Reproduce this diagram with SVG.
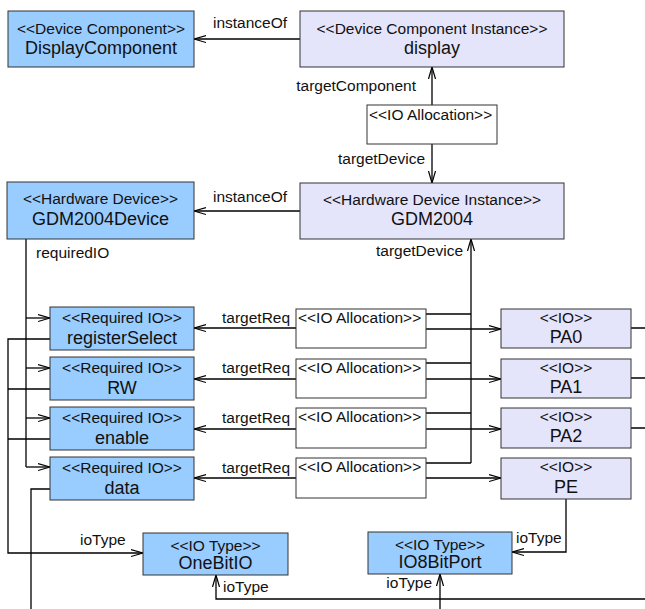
<svg xmlns="http://www.w3.org/2000/svg" width="645" height="609" viewBox="0 0 645 609">
<defs>
<style>
.cls{fill:#99ccff;stroke:#333;stroke-width:1}
.ins{fill:#e4e4fa;stroke:#333;stroke-width:1}
.alc{fill:#ffffff;stroke:#333;stroke-width:1}
text{font-family:"Liberation Sans",Arial,sans-serif;fill:#111}
.st{font-size:15.5px;text-anchor:middle}
.nm{font-size:18px;text-anchor:middle}
.al{font-size:15.5px}
.lb{font-size:15.5px}
.lbe{font-size:15.5px;text-anchor:end}
.cn{fill:none;stroke:#000;stroke-width:1.3}
</style>
<marker id="arr" markerWidth="14" markerHeight="10" refX="12" refY="5" orient="auto" markerUnits="userSpaceOnUse">
<path d="M0,1.5 L12,5 L0,8.5" fill="none" stroke="#000" stroke-width="1.2"/>
</marker>
</defs>
<rect width="645" height="609" fill="#ffffff"/>

<g id="connectors">
<path class="cn" d="M300,39 H194" marker-end="url(#arr)"/>
<path class="cn" d="M432,105 V67" marker-end="url(#arr)"/>
<path class="cn" d="M432,144 V183" marker-end="url(#arr)"/>
<path class="cn" d="M300,211 H194" marker-end="url(#arr)"/>
<path class="cn" d="M471,463 V239" marker-end="url(#arr)"/>
<path class="cn" d="M426,314 H471 M426,363 H471 M426,413 H471 M426,463 H471"/>
<path class="cn" d="M26,239 V467"/>
<path class="cn" d="M26,318 H50" marker-end="url(#arr)"/>
<path class="cn" d="M26,368 H50" marker-end="url(#arr)"/>
<path class="cn" d="M26,418 H50" marker-end="url(#arr)"/>
<path class="cn" d="M26,467 H50" marker-end="url(#arr)"/>
<path class="cn" d="M296,328 H194" marker-end="url(#arr)"/>
<path class="cn" d="M296,379 H194" marker-end="url(#arr)"/>
<path class="cn" d="M296,429 H194" marker-end="url(#arr)"/>
<path class="cn" d="M296,478 H194" marker-end="url(#arr)"/>
<path class="cn" d="M426,329 H501" marker-end="url(#arr)"/>
<path class="cn" d="M426,379 H501" marker-end="url(#arr)"/>
<path class="cn" d="M426,429 H501" marker-end="url(#arr)"/>
<path class="cn" d="M426,478 H501" marker-end="url(#arr)"/>
<path class="cn" d="M631,328 H645 M631,378 H645 M631,428 H645"/>
<path class="cn" d="M50,339 H8 V553 H143" marker-end="url(#arr)"/>
<path class="cn" d="M50,389 H8 M50,439 H8"/>
<path class="cn" d="M50,489 H31 V609"/>
<path class="cn" d="M566,499 V552 H512" marker-end="url(#arr)"/>
<path class="cn" d="M645,599 H216 V575" marker-end="url(#arr)"/>
<path class="cn" d="M440,609 V574" marker-end="url(#arr)"/>
<text class="lb" x="213" y="28">instanceOf</text>
<text class="lbe" x="416" y="91">targetComponent</text>
<text class="lbe" x="425" y="164">targetDevice</text>
<text class="lb" x="213" y="202">instanceOf</text>
<text class="lbe" x="463" y="256">targetDevice</text>
<text class="lb" x="36" y="258">requiredIO</text>
<text class="lb" x="222" y="323">targetReq</text>
<text class="lb" x="222" y="373">targetReq</text>
<text class="lb" x="222" y="423">targetReq</text>
<text class="lb" x="222" y="473">targetReq</text>
<text class="lb" x="80" y="545">ioType</text>
<text class="lb" x="516" y="543">ioType</text>
<text class="lb" x="223" y="592">ioType</text>
<text class="lbe" x="432" y="588">ioType</text>
</g>

<g id="DisplayComponent">
<rect class="cls" x="8" y="11" width="186" height="56"/>
<text class="st" x="101" y="34">&lt;&lt;Device Component&gt;&gt;</text>
<text class="nm" x="101" y="54">DisplayComponent</text>
</g>
<g id="display">
<rect class="ins" x="300" y="11" width="264" height="56"/>
<text class="st" x="432" y="34">&lt;&lt;Device Component Instance&gt;&gt;</text>
<text class="nm" x="432" y="54">display</text>
</g>
<g id="alloc0">
<rect class="alc" x="367" y="105" width="130" height="39"/>
<text class="al" x="369" y="120">&lt;&lt;IO Allocation&gt;&gt;</text>
</g>
<g id="GDM2004Device">
<rect class="cls" x="7" y="182" width="187" height="57"/>
<text class="st" x="100.5" y="204">&lt;&lt;Hardware Device&gt;&gt;</text>
<text class="nm" x="100.5" y="225">GDM2004Device</text>
</g>
<g id="GDM2004">
<rect class="ins" x="300" y="183" width="264" height="56"/>
<text class="st" x="432" y="205">&lt;&lt;Hardware Device Instance&gt;&gt;</text>
<text class="nm" x="432" y="225">GDM2004</text>
</g>

<g id="registerSelect">
<rect class="cls" x="50" y="307" width="144" height="43"/>
<text class="st" x="122" y="323">&lt;&lt;Required IO&gt;&gt;</text>
<text class="nm" x="122" y="344">registerSelect</text>
</g>
<g id="RW">
<rect class="cls" x="50" y="357" width="144" height="43"/>
<text class="st" x="122" y="373">&lt;&lt;Required IO&gt;&gt;</text>
<text class="nm" x="122" y="394">RW</text>
</g>
<g id="enable">
<rect class="cls" x="50" y="407" width="144" height="43"/>
<text class="st" x="122" y="423">&lt;&lt;Required IO&gt;&gt;</text>
<text class="nm" x="122" y="444">enable</text>
</g>
<g id="data">
<rect class="cls" x="50" y="457" width="144" height="43"/>
<text class="st" x="122" y="473">&lt;&lt;Required IO&gt;&gt;</text>
<text class="nm" x="122" y="494">data</text>
</g>

<g id="alloc1">
<rect class="alc" x="296" y="309" width="130" height="39"/>
<text class="al" x="298" y="323">&lt;&lt;IO Allocation&gt;&gt;</text>
</g>
<g id="alloc2">
<rect class="alc" x="296" y="359" width="130" height="39"/>
<text class="al" x="298" y="373">&lt;&lt;IO Allocation&gt;&gt;</text>
</g>
<g id="alloc3">
<rect class="alc" x="296" y="408" width="130" height="40"/>
<text class="al" x="298" y="422">&lt;&lt;IO Allocation&gt;&gt;</text>
</g>
<g id="alloc4">
<rect class="alc" x="296" y="458" width="130" height="40"/>
<text class="al" x="298" y="472">&lt;&lt;IO Allocation&gt;&gt;</text>
</g>

<g id="PA0">
<rect class="ins" x="501" y="309" width="130" height="39"/>
<text class="st" x="566" y="323">&lt;&lt;IO&gt;&gt;</text>
<text class="nm" x="566" y="343">PA0</text>
</g>
<g id="PA1">
<rect class="ins" x="501" y="359" width="130" height="39"/>
<text class="st" x="566" y="373">&lt;&lt;IO&gt;&gt;</text>
<text class="nm" x="566" y="393">PA1</text>
</g>
<g id="PA2">
<rect class="ins" x="501" y="408" width="130" height="40"/>
<text class="st" x="566" y="422">&lt;&lt;IO&gt;&gt;</text>
<text class="nm" x="566" y="442">PA2</text>
</g>
<g id="PE">
<rect class="ins" x="501" y="458" width="130" height="41"/>
<text class="st" x="566" y="472">&lt;&lt;IO&gt;&gt;</text>
<text class="nm" x="566" y="493">PE</text>
</g>

<g id="OneBitIO">
<rect class="cls" x="143" y="533" width="145" height="42"/>
<text class="st" x="215.5" y="551">&lt;&lt;IO Type&gt;&gt;</text>
<text class="nm" x="215.5" y="569">OneBitIO</text>
</g>
<g id="IO8BitPort">
<rect class="cls" x="368" y="532" width="144" height="42"/>
<text class="st" x="440" y="550">&lt;&lt;IO Type&gt;&gt;</text>
<text class="nm" x="440" y="568">IO8BitPort</text>
</g>
</svg>
